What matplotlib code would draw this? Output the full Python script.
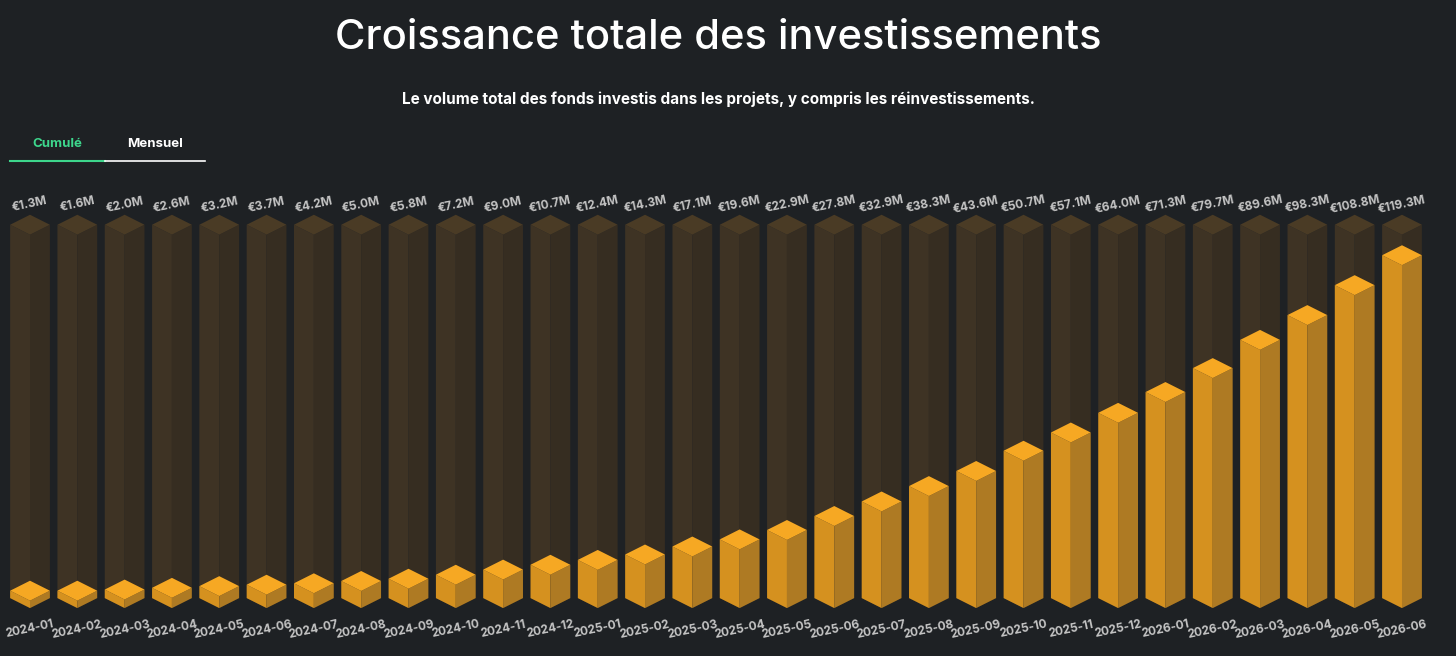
import matplotlib.pyplot as plt
from matplotlib.patches import Polygon

months = ["2024-01", "2024-02", "2024-03", "2024-04", "2024-05", "2024-06",
          "2024-07", "2024-08", "2024-09", "2024-10", "2024-11", "2024-12",
          "2025-01", "2025-02", "2025-03", "2025-04", "2025-05", "2025-06",
          "2025-07", "2025-08", "2025-09", "2025-10", "2025-11", "2025-12",
          "2026-01", "2026-02", "2026-03", "2026-04", "2026-05", "2026-06"]
values = [1.3, 1.6, 2.0, 2.6, 3.2, 3.7, 4.2, 5.0, 5.8, 7.2, 9.0, 10.7,
          12.4, 14.3, 17.1, 19.6, 22.9, 27.8, 32.9, 38.3, 43.6, 50.7,
          57.1, 64.0, 71.3, 79.7, 89.6, 98.3, 108.8, 119.3]
value_labels = ["€%.1fM" % v for v in values]
track_max = 131.0

BG = "#1e2124"
W = 0.42      # half width in category units
D = 3.5       # half depth of the diamond in value units


def box(ax, x, h, top, left, right):
    ax.add_patch(Polygon([(x - W, 0), (x, -D), (x, h - D), (x - W, h)], closed=True, fc=left, ec="none"))
    ax.add_patch(Polygon([(x, -D), (x + W, 0), (x + W, h), (x, h - D)], closed=True, fc=right, ec="none"))
    ax.add_patch(Polygon([(x - W, h), (x, h - D), (x + W, h), (x, h + D)], closed=True, fc=top, ec="none"))


fig = plt.figure(figsize=(14.56, 6.56), dpi=100, facecolor=BG)
ax = fig.add_axes([6.35 / 1456, 16 / 656, 1419.3 / 1456, 470 / 656])
ax.set_facecolor(BG)
ax.set_xlim(-0.5, len(values) - 0.5)
ax.set_ylim(-14.7, 150.2)
ax.axis("off")

for i, v in enumerate(values):
    box(ax, i, track_max, "#4a3b25", "#3e3324", "#362d21")
    box(ax, i, max(v, 1.6) + 1.0, "#f6a823", "#d5911f", "#ae7a23")
    ax.text(i, track_max + 7, value_labels[i], ha="center", va="center", rotation=12,
            color="#c4c4c4", fontsize=8.5, fontweight="bold", family="Inter")
    ax.text(i, -11, months[i], ha="center", va="center", rotation=12,
            color="#c4c4c4", fontsize=8.5, fontweight="bold", family="Inter")

fig.text(718 / 1456, 1 - 38 / 656, "Croissance totale des investissements", ha="center", va="center",
         color="white", fontsize=30, family="Inter", fontweight="medium")
fig.text(718 / 1456, 1 - 99 / 656, "Le volume total des fonds investis dans les projets, y compris les réinvestissements.",
         ha="center", va="center", color="white", fontsize=11, family="Inter", fontweight="bold")
fig.text(57 / 1456, 1 - 144 / 656, "Cumulé", ha="center", va="center", color="#3dd68c",
         fontsize=9.5, family="Inter", fontweight="bold")
fig.text(155 / 1456, 1 - 144 / 656, "Mensuel", ha="center", va="center", color="white",
         fontsize=9.5, family="Inter", fontweight="bold")
fig.add_artist(plt.Line2D([10 / 1456, 105 / 1456], [1 - 161 / 656] * 2, color="#3dd68c", lw=1.5))
fig.add_artist(plt.Line2D([105 / 1456, 205 / 1456], [1 - 161 / 656] * 2, color="white", lw=1.2))

fig.savefig("out.png", dpi=100, facecolor=BG)
